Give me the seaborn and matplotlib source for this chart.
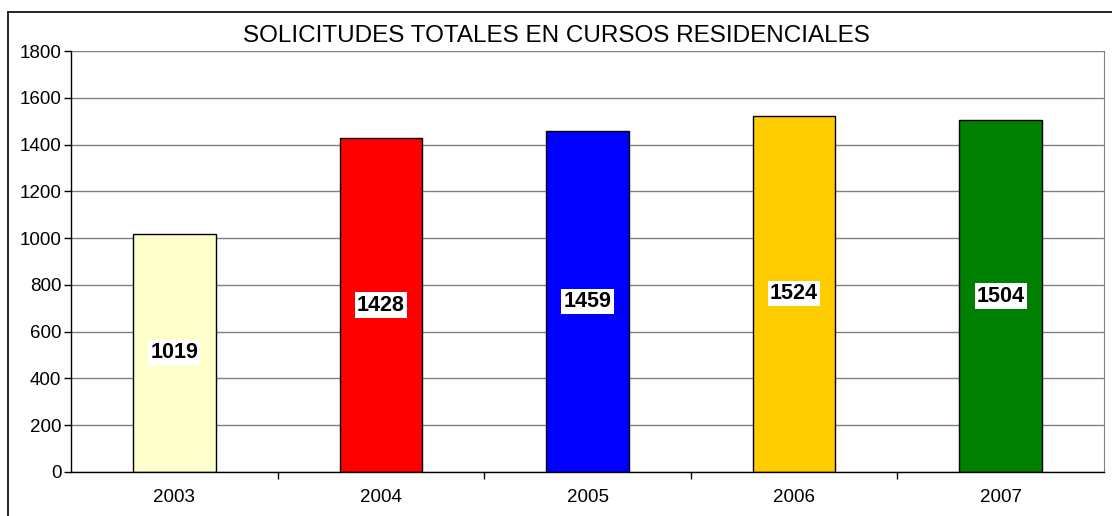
import pandas as pd
import matplotlib.pyplot as plt
import matplotlib.lines as mlines
import seaborn as sns

# Data
years = ['2003', '2004', '2005', '2006', '2007']
solicitudes = [1019, 1428, 1459, 1524, 1504]
colores = ['#FFFFCC', '#FF0000', '#0000FF', '#FFCC00', '#008000']

df = pd.DataFrame({'anio': years, 'solicitudes': solicitudes})

sns.set_style('white')
plt.rcParams['font.family'] = ['Liberation Sans', 'DejaVu Sans']
plt.rcParams['text.color'] = 'black'
plt.rcParams['xtick.color'] = 'black'
plt.rcParams['ytick.color'] = 'black'

fig = plt.figure(figsize=(11.12, 5.16), dpi=100)
ax = fig.add_axes([71 / 1112, 1 - 472 / 516, (1104 - 71) / 1112, (472 - 51) / 516])

sns.barplot(data=df, x='anio', y='solicitudes', hue='anio', palette=colores,
            saturation=1, width=0.4, edgecolor='black', linewidth=1,
            legend=False, ax=ax)

ax.set_ylim(0, 1800)
ax.set_yticks(range(0, 1801, 200))
ax.set_xlim(-0.5, len(years) - 0.5)
ax.yaxis.grid(True, color='#808080', linewidth=1)
ax.set_axisbelow(True)
ax.set_xlabel('')
ax.set_ylabel('')

for s in ['left', 'bottom']:
    ax.spines[s].set_color('black')
    ax.spines[s].set_linewidth(1)
ax.spines['top'].set_visible(False)
ax.spines['right'].set_color('#808080')

ax.tick_params(axis='y', left=True, length=5, width=1, color='black', labelsize=13.5, pad=2)
ax.set_xticks([i + 0.5 for i in range(len(years) - 1)], minor=True)
ax.tick_params(axis='x', which='major', bottom=False, labelsize=13.5, pad=9)
ax.tick_params(axis='x', which='minor', bottom=True, length=5, width=1, color='black')

for i, v in enumerate(solicitudes):
    ax.text(i, v / 2, str(v), ha='center', va='center', fontsize=15.5, fontweight='bold',
            color='black', bbox=dict(facecolor='white', edgecolor='none', pad=1.5))

fig.text(0.5, 1 - 36 / 516, 'SOLICITUDES TOTALES EN CURSOS RESIDENCIALES',
         ha='center', va='center', fontsize=17.5, color='black')

# outer chart frame
fig.add_artist(mlines.Line2D([8 / 1112, 8 / 1112], [0, 1 - 12 / 516], color='black', linewidth=1.2))
fig.add_artist(mlines.Line2D([8 / 1112, 1], [1 - 12 / 516, 1 - 12 / 516], color='black', linewidth=1.2))

fig.savefig('out.png', dpi=100)
